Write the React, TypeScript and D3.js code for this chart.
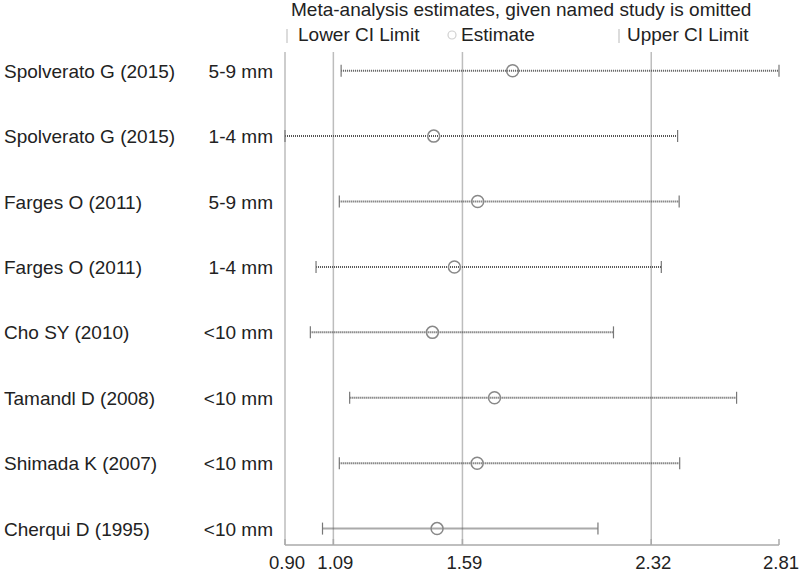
import React from "react";
import * as d3 from "d3";

const studies = [
  "Spolverato G (2015)",
  "Spolverato G (2015)",
  "Farges O (2011)",
  "Farges O (2011)",
  "Cho SY (2010)",
  "Tamandl D (2008)",
  "Shimada K (2007)",
  "Cherqui D (1995)",
];
const sizes = ["5-9 mm", "1-4 mm", "5-9 mm", "1-4 mm", "<10 mm", "<10 mm", "<10 mm", "<10 mm"];
const lowerCI = [1.117, 0.9, 1.11, 1.02, 0.998, 1.15, 1.11, 1.045];
const estimate = [1.78, 1.475, 1.645, 1.555, 1.47, 1.71, 1.643, 1.488];
const upperCI = [2.81, 2.418, 2.424, 2.355, 2.17, 2.646, 2.426, 2.11];
const refLines = [1.087, 1.586, 2.316];
const tickValues = [0.9, 1.087, 1.586, 2.316, 2.81];
const tickLabels = ["0.90", "1.09", "1.59", "2.32", "2.81"];

const W = 800;
const H = 573;
const FONT = "'Liberation Sans', Arial, sans-serif";

export default function App() {
  const x = d3.scaleLinear().domain([0.9, 2.81]).range([285, 779]);
  const y = d3.scalePoint<number>().domain(d3.range(studies.length)).range([70.7, 528.6]);
  const axisY = 545;
  const topY = 52;

  return (
    <svg
      width={W}
      height={H}
      style={{ position: "absolute", left: 0, top: 0, background: "#fff" }}
      fontFamily={FONT}
    >
      <rect width={W} height={H} fill="#fff" />
      {/* title */}
      <text x={291} y={16} fontSize={19} fill="#222">
        Meta-analysis estimates, given named study is omitted
      </text>
      {/* legend */}
      <line x1={287} x2={287} y1={29} y2={43} stroke="#d0d0d0" strokeWidth={1.5} />
      <text x={298} y={41} fontSize={19} fill="#222">Lower CI Limit</text>
      <circle cx={452} cy={35} r={4} fill="none" stroke="#d0d0d0" strokeWidth={1.2} />
      <text x={461} y={41} fontSize={19} fill="#222">Estimate</text>
      <line x1={619} x2={619} y1={29} y2={43} stroke="#d0d0d0" strokeWidth={1.5} />
      <text x={627} y={41} fontSize={19} fill="#222">Upper CI Limit</text>

      {/* left border & reference lines */}
      <line x1={x(0.9)} x2={x(0.9)} y1={topY} y2={axisY} stroke="#bdbdbd" strokeWidth={1.5} />
      {refLines.map((v, i) => (
        <line key={i} x1={x(v)} x2={x(v)} y1={topY} y2={axisY} stroke="#bdbdbd" strokeWidth={1.5} />
      ))}

      {/* axis */}
      <line x1={x(0.9)} x2={x(2.81)} y1={axisY} y2={axisY} stroke="#aaa" strokeWidth={1.5} />
      {tickValues.map((v, i) => (
        <g key={i}>
          <line x1={x(v)} x2={x(v)} y1={axisY - 6} y2={axisY} stroke="#aaa" strokeWidth={1.5} />
          <text x={x(v) + 2} y={569} fontSize={18.5} textAnchor="middle" fill="#222">
            {tickLabels[i]}
          </text>
        </g>
      ))}

      {/* rows */}
      {studies.map((s, i) => {
        const yy = y(i) as number;
        return (
          <g key={i}>
            <text x={4} y={yy + 7} fontSize={19} fill="#222">{s}</text>
            <text x={273} y={yy + 7} fontSize={19} fill="#222" textAnchor="end">{sizes[i]}</text>
            <line
              x1={x(lowerCI[i])}
              x2={x(upperCI[i])}
              y1={yy}
              y2={yy}
              stroke="#555"
              strokeWidth={2}
              strokeDasharray="1 1"
            />
            <line x1={x(lowerCI[i])} x2={x(lowerCI[i])} y1={yy - 6} y2={yy + 6} stroke="#777" strokeWidth={1.2} />
            <line x1={x(upperCI[i])} x2={x(upperCI[i])} y1={yy - 6} y2={yy + 6} stroke="#777" strokeWidth={1.2} />
            <circle cx={x(estimate[i])} cy={yy} r={6} fill="none" stroke="#888" strokeWidth={1.5} />
          </g>
        );
      })}
    </svg>
  );
}
